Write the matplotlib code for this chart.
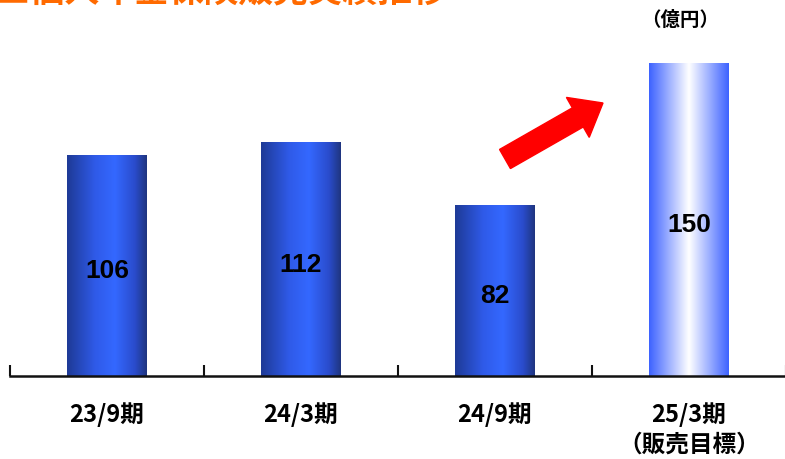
import matplotlib.pyplot as plt
import numpy as np
from matplotlib.colors import LinearSegmentedColormap
from matplotlib.patches import FancyArrow
from matplotlib.transforms import IdentityTransform

plt.rcParams['font.family'] = ['Noto Sans CJK JP', 'DejaVu Sans']

periods = ['23/9期', '24/3期', '24/9期', '25/3期\n（販売目標）']
sales = [106, 112, 82, 150]
is_target = [False, False, False, True]

title = '■個人年金保険販売実績推移'
unit = '（億円）'

# horizontal shading for the bars
actual_cmap = LinearSegmentedColormap.from_list(
    'actual', [(0.0, '#1e3a96'), (0.35, '#2f5ae8'), (0.6, '#3468ff'),
               (0.85, '#2a4ccc'), (1.0, '#1f357f')])
target_cmap = LinearSegmentedColormap.from_list(
    'target', [(0.0, '#3d62ff'), (0.5, '#ffffff'), (1.0, '#3d62ff')])
shade = np.linspace(0, 1, 256).reshape(1, -1)

fig = plt.figure(figsize=(7.85, 4.6), dpi=100)
ax = fig.add_axes([10 / 785, 83 / 460, 776 / 785, 354 / 460])

x = np.arange(len(periods))
width = 0.41
bars = ax.bar(x, sales, width, color='none', edgecolor='none')
for b, v, tgt in zip(bars, sales, is_target):
    x0 = b.get_x()
    ax.imshow(shade, cmap=target_cmap if tgt else actual_cmap, aspect='auto',
              extent=[x0, x0 + b.get_width(), 0, v], zorder=2,
              interpolation='bilinear')
    ax.annotate(str(v), (b.get_x() + b.get_width() / 2, v / 2),
                xytext=(0, -3), textcoords='offset points', ha='center',
                va='center', fontsize=19, fontweight='bold',
                family='Liberation Sans', zorder=3)

ax.set_xlim(-0.5, len(periods) - 0.5)
ax.set_ylim(0, 170)
for s in ['top', 'right', 'left']:
    ax.spines[s].set_visible(False)
ax.spines['bottom'].set_linewidth(1.8)
ax.spines['bottom'].set_color('#111111')
ax.set_yticks([])
ax.set_xticks(np.arange(len(periods) + 1) - 0.5)
ax.set_xticklabels([])
ax.tick_params(axis='x', direction='in', length=8, width=1.5, color='#111111')

for i, p in enumerate(periods):
    ax.text(i, -12, p, ha='center', va='top', fontsize=17, fontweight='bold',
            linespacing=1.3)

fig.text(680 / 785, 1 - 20 / 460, unit, ha='center', va='center',
         fontsize=14, fontweight='bold')
fig.text(-4 / 785, 1 - 9 / 460, title, ha='left', va='bottom', fontsize=25,
         fontweight='bold', color='#ff6a00')

arrow = FancyArrow(505, 300, 98, 56, width=22, head_width=46, head_length=29,
                   length_includes_head=True, color='#ff0000',
                   transform=IdentityTransform())
fig.add_artist(arrow)

fig.savefig('out.png', dpi=100)
